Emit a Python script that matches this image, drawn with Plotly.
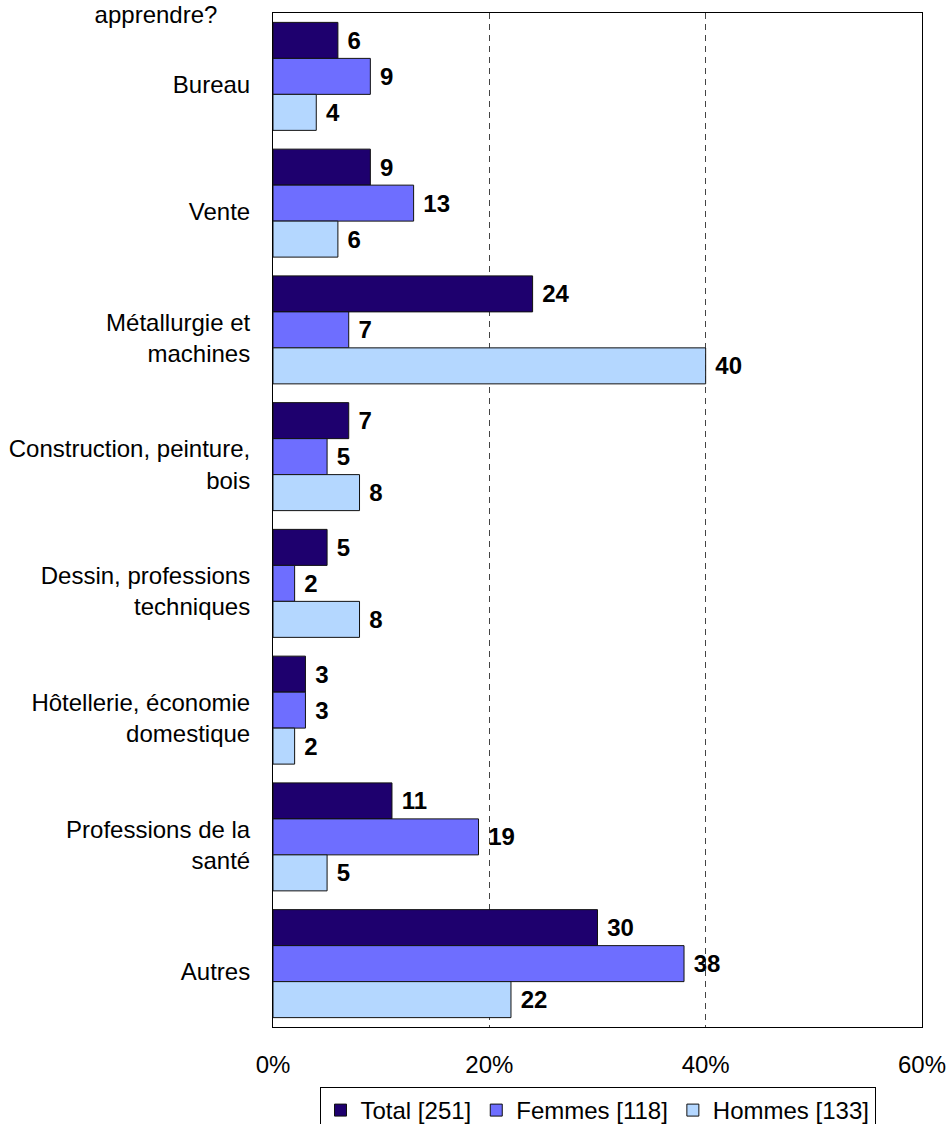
import plotly.graph_objects as go

categories = [
    "Bureau",
    "Vente",
    "Métallurgie et<br>machines",
    "Construction, peinture,<br>bois",
    "Dessin, professions<br>techniques",
    "Hôtellerie, économie<br>domestique",
    "Professions de la<br>santé",
    "Autres",
]
total = [6, 9, 24, 7, 5, 3, 11, 30]
femmes = [9, 13, 7, 5, 2, 3, 19, 38]
hommes = [4, 6, 40, 8, 8, 2, 5, 22]
series_names = ["Total [251]", "Femmes [118]", "Hommes [133]"]
tick_vals = [0, 20, 40, 60]
tick_text = ["0%", "20%", "40%", "60%"]

colors = ["#1E006E", "#6E6EFF", "#B4D7FF"]
FONT = "Liberation Sans, Arial, sans-serif"

fig = go.Figure()
for name, vals, col in zip(series_names, [total, femmes, hommes], colors):
    fig.add_trace(go.Bar(
        y=categories,
        x=vals,
        name=name,
        orientation="h",
        marker=dict(color=col, line=dict(color="#111111", width=1)),
        text=[f" {v}" for v in vals],
        textposition="outside",
        constraintext="none",
        cliponaxis=False,
        textfont=dict(family=FONT, size=24, color="black", weight="bold"),
    ))

fig.update_layout(
    template="none",
    width=946,
    height=1124,
    margin=dict(l=273, r=24, t=13, b=97, autoexpand=False),
    paper_bgcolor="white",
    plot_bgcolor="white",
    barmode="group",
    bargap=0.148,
    bargroupgap=0,
    font=dict(family=FONT, size=24, color="black"),
    title=dict(
        text="apprendre?",
        xref="container", yref="container",
        x=156 / 946, xanchor="center",
        y=1 - 15 / 1124, yanchor="middle",
        font=dict(family=FONT, size=24, color="black"),
    ),
    legend=dict(
        orientation="h",
        x=0.5, xanchor="center",
        y=-60 / 1014, yanchor="top",
        bordercolor="black",
        borderwidth=1,
        bgcolor="white",
        font=dict(family=FONT, size=24, color="black"),
        traceorder="normal",
    ),
    showlegend=True,
)

fig.update_xaxes(
    range=[0, 60],
    tickvals=tick_vals,
    ticktext=tick_text,
    showgrid=True,
    gridcolor="#444444",
    griddash="6px,5px",
    gridwidth=1,
    showline=True,
    mirror=True,
    linecolor="black",
    linewidth=1,
    zeroline=False,
    ticks="",
    automargin=False,
    ticklabelstandoff=16,
    ticklabeloverflow="allow",
    tickfont=dict(family=FONT, size=24, color="black"),
)
fig.update_yaxes(
    type="category",
    autorange="reversed",
    showgrid=False,
    showline=True,
    mirror=True,
    linecolor="black",
    linewidth=1,
    ticks="",
    automargin=False,
    ticklabelstandoff=17,
    ticklabelshift=-8,
    tickfont=dict(family=FONT, size=24, color="black"),
)

fig.write_html(
    "out.html",
    config={"displayModeBar": False},
    post_script="document.body.style.margin='0';document.body.style.overflow='hidden';",
)
